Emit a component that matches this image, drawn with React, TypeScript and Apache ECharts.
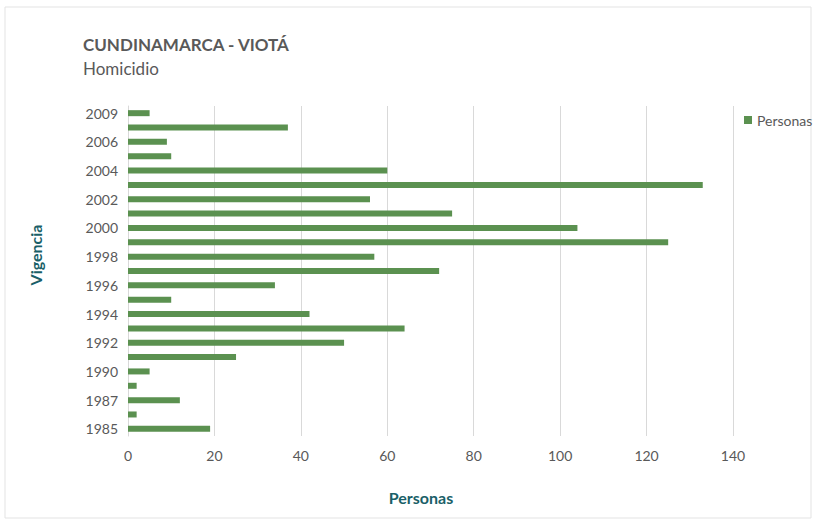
import React, { useEffect, useRef } from "react";
import * as echarts from "echarts";

const years = [
  "1985", "1986", "1987", "1988", "1990", "1991", "1992", "1993", "1994", "1995",
  "1996", "1997", "1998", "1999", "2000", "2001", "2002", "2003", "2004", "2005",
  "2006", "2007", "2009",
];
const personas = [
  19, 2, 12, 2, 5, 25, 50, 64, 42, 10,
  34, 72, 57, 125, 104, 75, 56, 133, 60, 10,
  9, 37, 5,
];
const xTicks = { min: 0, max: 140, interval: 20 };

const FONT = "Lato, 'Open Sans', 'DejaVu Sans', sans-serif";

export default function App() {
  const ref = useRef<HTMLDivElement>(null);
  useEffect(() => {
    if (!ref.current) return;
    const chart = echarts.init(ref.current, undefined, { renderer: "svg" });
    chart.setOption({
      animation: false,
      backgroundColor: "#ffffff",
      textStyle: { fontFamily: FONT },
      graphic: [
        {
          type: "rect",
          shape: { x: 5, y: 7, width: 806, height: 511 },
          style: { fill: "none", stroke: "#e3e3e3", lineWidth: 1 },
          silent: true,
        },
        {
          type: "text",
          left: 83,
          top: 36,
          style: {
            text: "CUNDINAMARCA - VIOTÁ",
            fontFamily: FONT,
            fontSize: 17,
            fontWeight: "bold",
            fill: "#595959",
          },
        },
        {
          type: "text",
          left: 83,
          top: 60,
          style: {
            text: "Homicidio",
            fontFamily: FONT,
            fontSize: 17,
            fill: "#595959",
          },
        },
        {
          type: "text",
          x: 421,
          y: 497,
          style: {
            text: "Personas",
            fontFamily: FONT,
            fontSize: 16,
            fontWeight: "bold",
            fill: "#1a5f68",
            align: "center",
            verticalAlign: "middle",
          },
        },
        {
          type: "text",
          x: 35,
          y: 255,
          rotation: Math.PI / 2,
          style: {
            text: "Vigencia",
            fontFamily: FONT,
            fontSize: 16,
            fontWeight: "bold",
            fill: "#1a5f68",
            align: "center",
            verticalAlign: "middle",
          },
        },
      ],
      legend: {
        show: true,
        left: 739,
        top: 108,
        itemWidth: 8,
        itemHeight: 8,
        itemGap: 4,
        icon: "rect",
        textStyle: { color: "#595959", fontSize: 14, fontFamily: FONT },
        data: ["Personas"],
      },
      grid: { left: 128, right: 82, top: 106, bottom: 85, containLabel: false },
      xAxis: {
        type: "value",
        min: xTicks.min,
        max: xTicks.max,
        interval: xTicks.interval,
        axisLine: { show: false },
        axisTick: { show: false },
        axisLabel: { color: "#595959", fontSize: 14, margin: 12, fontFamily: FONT },
        splitLine: { show: true, lineStyle: { color: "#d9d9d9", width: 1 } },
      },
      yAxis: {
        type: "category",
        data: years,
        axisLine: { show: true, lineStyle: { color: "#d9d9d9" } },
        axisTick: { show: false },
        axisLabel: { interval: 1, color: "#595959", fontSize: 14, margin: 10, fontFamily: FONT },
        splitLine: { show: false },
      },
      series: [
        {
          name: "Personas",
          type: "bar",
          data: personas,
          barWidth: 6,
          itemStyle: { color: "#5b9150" },
        },
      ],
    });
    return () => chart.dispose();
  }, []);
  return (
    <div
      ref={ref}
      style={{ position: "absolute", left: 0, top: 0, width: 815, height: 521 }}
    />
  );
}
